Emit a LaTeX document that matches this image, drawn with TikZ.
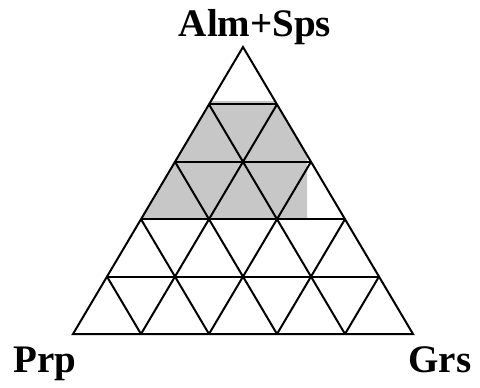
\documentclass[tikz,border=0pt]{standalone}
\usepackage{fontspec}
\setmainfont{Liberation Serif}

\begin{document}
\begin{tikzpicture}[x=1pt,y=-1pt, gridline/.style={line width=2pt,line join=miter}, corner/.style={font=\fontsize{39}{39}\selectfont\bfseries,inner sep=0pt,anchor=base}]
\useasboundingbox (0,0) rectangle (480,388);
% grid points, row r from the base, column c from the left
\foreach \r in {0,...,5} {
  \pgfmathtruncatemacro{\m}{5-\r}
  \foreach \c in {0,...,\m} {
    \coordinate (p\r-\c) at ({73+68*\c+34*\r},{334-57.4*\r});
  }
}
% shaded field
\fill[black!22] (211,101) -- (275,101) -- (307,155) -- (307,219) -- (141,219) -- cycle;
% grid
\foreach \r in {1,...,4} {
  \pgfmathtruncatemacro{\m}{5-\r}
  \draw[gridline] (p\r-0) -- (p\r-\m);
  \draw[gridline] (p0-\r) -- (p\m-\r);
  \draw[gridline] (p0-\r) -- (p\r-0);
}
\draw[gridline] (p0-0) -- (p0-5) -- (p5-0) -- cycle;
% corners
\node[corner] (prp) at (45,372) {Prp};
\node[corner] (grs) at (440,372) {Grs};
\node[corner] (alm) at (255,37) {Alm+Sps};
\end{tikzpicture}
\end{document}
